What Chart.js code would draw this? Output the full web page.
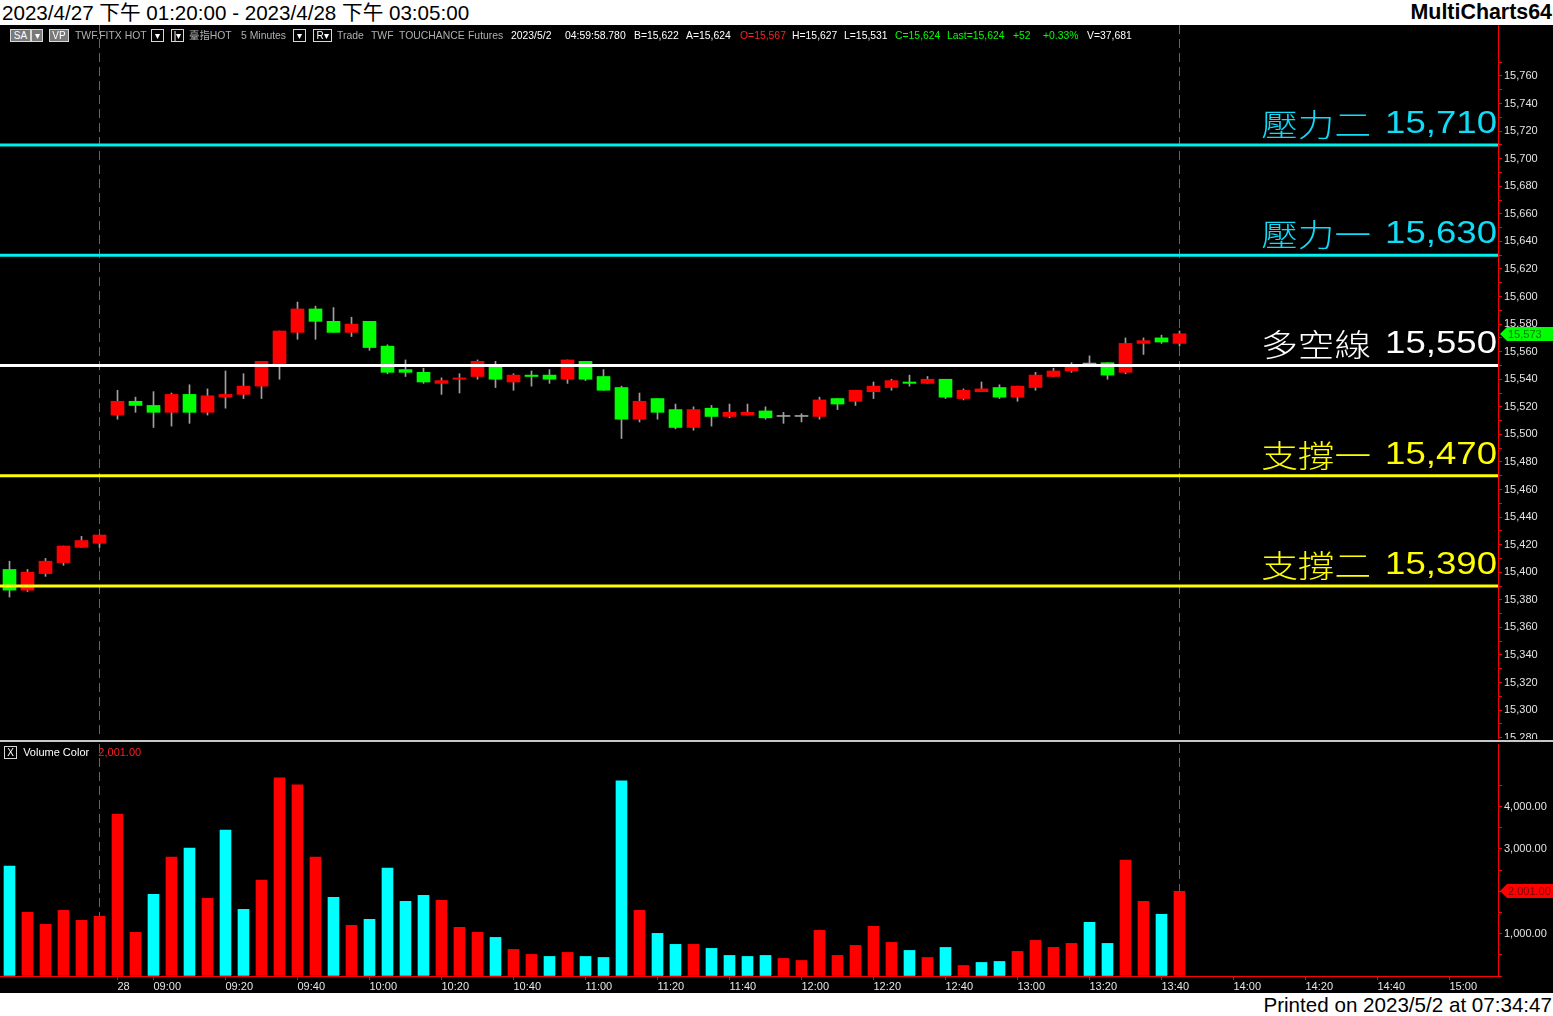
<!DOCTYPE html>
<html lang="zh-Hant">
<head>
<meta charset="utf-8">
<title>TWF.FITX HOT 5 Minutes</title>
<script src="https://cdn.jsdelivr.net/npm/chart.js@4.4.1/dist/chart.umd.min.js"></script>
<style>
  html, body { margin: 0; padding: 0; }
  body {
    width: 1553px; height: 1016px; position: relative; overflow: hidden; background: #000;
    font-family: "Liberation Sans", Arial, "Noto Sans CJK TC", sans-serif;
  }
  #titlebar { position: absolute; left: 0; top: 0; width: 1553px; height: 25px; background: #fff; }
  #titlebar div { position: absolute; top: 0; line-height: 25px; font-size: 20.6px; color: #000; white-space: nowrap; }
  #footer { position: absolute; left: 0; top: 993px; width: 1553px; height: 23px; background: #fff; }
  #footer div { position: absolute; right: 1px; top: 0; line-height: 23px; font-size: 20.6px; color: #000; white-space: nowrap; }
  #status span { position: absolute; top: 30px; font-size: 10.4px; line-height: 12px; white-space: nowrap; }
  .g { color: #b0b0b0; }
  .w { color: #fff; }
  .r { color: #ff2020; }
  .gr { color: #00ff00; }
  #status span.box { top: 29px; height: 11px; line-height: 11px; border: 1px solid #d8d8d8; color: #fff;
                     text-align: center; font-size: 10px; }
  #status span.fill { background: #7a7a7a; }
  #pricePane { position: absolute; left: 0; top: 25px; }
  #volPane { position: absolute; left: 0; top: 744px; }
  #sep { position: absolute; left: 0; top: 740px; width: 1553px; height: 2px; background: #c8c8c8; }
  #volLabel { position: absolute; left: 4px; top: 746px; font-size: 11px; line-height: 13px; white-space: nowrap; }
  #volLabel .chk { display: inline-block; width: 11px; height: 11px; border: 1px solid #d8d8d8; color: #fff;
                   font-size: 10px; line-height: 11px; text-align: center; vertical-align: top; }
</style>
</head>
<body>
<div id="titlebar">
  <div style="left:2px">2023/4/27 下午 01:20:00 - 2023/4/28 下午 03:05:00</div>
  <div style="right:1px;font-weight:bold;font-size:21.4px">MultiCharts64</div>
</div>

<canvas id="pricePane" width="1553" height="714"></canvas>
<div id="sep"></div>
<canvas id="volPane" width="1553" height="249"></canvas>

<div id="status">
  <span class="box fill" style="left:10px;width:19px">SA</span>
  <span class="box fill" style="left:31px;width:10px">▾</span>
  <span class="box fill" style="left:49px;width:18px">VP</span>
  <span class="g" style="left:75px">TWF.FITX HOT</span>
  <span class="box" style="left:151px;width:11px">▾</span>
  <span class="box" style="left:171px;width:11px">|▾</span>
  <span class="g" style="left:189px">臺指HOT</span>
  <span class="g" style="left:241px">5 Minutes</span>
  <span class="box" style="left:293px;width:11px">▾</span>
  <span class="box" style="left:313px;width:17px">R▾</span>
  <span class="g" style="left:337px">Trade</span>
  <span class="g" style="left:371px">TWF</span>
  <span class="g" style="left:399px">TOUCHANCE</span>
  <span class="g" style="left:468px">Futures</span>
  <span class="w" style="left:511px">2023/5/2</span>
  <span class="w" style="left:565px">04:59:58.780</span>
  <span class="w" style="left:634px">B=15,622</span>
  <span class="w" style="left:686px">A=15,624</span>
  <span class="r" style="left:740px">O=15,567</span>
  <span class="w" style="left:792px">H=15,627</span>
  <span class="w" style="left:844px">L=15,531</span>
  <span class="gr" style="left:895px">C=15,624</span>
  <span class="gr" style="left:947px">Last=15,624</span>
  <span class="gr" style="left:1013px">+52</span>
  <span class="gr" style="left:1043px">+0.33%</span>
  <span class="w" style="left:1087px">V=37,681</span>
</div>

<div id="volLabel"><span class="chk">X</span>&nbsp; <span class="w">Volume Color</span>&nbsp;&nbsp; <span class="r" id="volLast"></span></div>

<div id="footer"><div>Printed on 2023/5/2 at 07:34:47</div></div>

<script>
// 5-minute bars: 6 bars from 4/27 (13:20-13:45), then 4/28 08:50-13:45
const prevDayBars = 6;

const opens  = [15402, 15387, 15399, 15407, 15418, 15421,
  15514, 15524, 15521, 15516, 15529, 15516, 15527, 15529, 15535, 15551,
  15574, 15591, 15582, 15574, 15582, 15564, 15547, 15545, 15537, 15540,
  15542, 15549, 15538, 15543, 15543, 15540, 15553, 15542, 15534, 15511,
  15526, 15518, 15505, 15519, 15513, 15514, 15517, 15513, 15513, 15513,
  15526, 15524, 15531, 15534, 15538, 15537, 15540, 15526, 15531, 15534,
  15527, 15534, 15542, 15546, 15551, 15552, 15545, 15566, 15570, 15566];
const highs  = [15408, 15402, 15410, 15419, 15426, 15427,
  15532, 15527, 15531, 15530, 15536, 15533, 15546, 15544, 15553, 15575,
  15596, 15593, 15592, 15585, 15582, 15565, 15554, 15548, 15541, 15544,
  15554, 15553, 15544, 15546, 15547, 15554, 15553, 15547, 15535, 15530,
  15526, 15522, 15520, 15521, 15522, 15522, 15520, 15516, 15515, 15527,
  15526, 15532, 15538, 15540, 15543, 15542, 15540, 15533, 15538, 15536,
  15535, 15545, 15548, 15552, 15557, 15552, 15570, 15570, 15572, 15575];
const lows   = [15382, 15386, 15397, 15405, 15418, 15418,
  15511, 15516, 15505, 15506, 15508, 15514, 15519, 15526, 15526, 15540,
  15569, 15569, 15574, 15571, 15561, 15544, 15542, 15537, 15529, 15530,
  15540, 15534, 15532, 15535, 15537, 15537, 15539, 15532, 15497, 15509,
  15511, 15504, 15503, 15506, 15512, 15514, 15511, 15508, 15509, 15511,
  15518, 15521, 15526, 15532, 15535, 15537, 15526, 15525, 15531, 15526,
  15524, 15532, 15542, 15545, 15550, 15540, 15544, 15558, 15566, 15564];
const closes = [15387, 15400, 15408, 15419, 15423, 15427,
  15524, 15521, 15516, 15529, 15516, 15528, 15529, 15535, 15553, 15575,
  15591, 15582, 15574, 15580, 15563, 15545, 15545, 15538, 15539, 15541,
  15553, 15540, 15543, 15542, 15540, 15554, 15540, 15532, 15511, 15524,
  15516, 15505, 15518, 15513, 15516, 15516, 15512, 15513, 15513, 15525,
  15522, 15532, 15535, 15539, 15537, 15540, 15527, 15532, 15533, 15527,
  15535, 15543, 15546, 15549, 15551, 15543, 15566, 15568, 15567, 15573];

const volumes = [2595, 1505, 1220, 1552, 1315, 1410,
  3827, 1031, 1932, 2808, 3022, 1837, 3448, 1576, 2263, 4681,
  4515, 2808, 1860, 1197, 1339, 2548, 1766, 1908, 1789, 1149,
  1031, 912, 628, 510, 462, 557, 462, 438, 4610, 1552,
  1007, 747, 747, 652, 486, 462, 486, 415, 367, 1078,
  486, 723, 1173, 794, 604, 438, 675, 249, 320, 344,
  581, 841, 675, 770, 1268, 770, 2737, 1766, 1458, 2001];
// 1 = up volume (red), 0 = down volume (cyan)
const volumeUp = [0, 1, 1, 1, 1, 1,
  1, 1, 0, 1, 0, 1, 0, 0, 1, 1,
  1, 1, 0, 1, 0, 0, 0, 0, 1, 1,
  1, 0, 1, 1, 0, 1, 0, 0, 0, 1,
  0, 0, 1, 0, 0, 0, 0, 1, 1, 1,
  1, 1, 1, 1, 0, 1, 0, 1, 0, 0,
  1, 1, 1, 1, 0, 0, 1, 1, 0, 1];

const levels     = [15710, 15630, 15550, 15470, 15390];
const levelNames = ['壓力二', '壓力一', '多空線', '支撐一', '支撐二'];

const tickTimes  = ['08:50', '09:00', '09:20', '09:40', '10:00', '10:20', '10:40', '11:00', '11:20', '11:40',
  '12:00', '12:20', '12:40', '13:00', '13:20', '13:40', '14:00', '14:20', '14:40', '15:00'];
const tickLabels = ['28', '09:00', '09:20', '09:40', '10:00', '10:20', '10:40', '11:00', '11:20', '11:40',
  '12:00', '12:20', '12:40', '13:00', '13:20', '13:40', '14:00', '14:20', '14:40', '15:00'];

// ---- look ----
const FONT = '"Liberation Sans", Arial, sans-serif';
const UP = '#ff0000', DOWN = '#00ff00', DOJI = '#a0a0a0', WICK = '#a0a0a0';
const VOL_UP = '#ff0000', VOL_DOWN = '#00ffff';
const levelLineColors = ['#00f0f0', '#00f0f0', '#ffffff', '#ffff00', '#ffff00'];
const levelTextColors = ['#10dcf8', '#10dcf8', '#ffffff', '#ffff00', '#ffff00'];
const AXIS_W = 55, BAR_SPACING = 18, PLOT_W = 1553 - AXIS_W;
const xMin = -9.5 / BAR_SPACING;            // first bar centred 9.5px in
const xMax = xMin + PLOT_W / BAR_SPACING;   // empty slots run on to 15:05
const sessionEnds = [prevDayBars - 1, closes.length - 1];

function timeToIndex(t) {
  const [h, m] = t.split(':').map(Number);
  return prevDayBars + (h * 60 + m - (8 * 60 + 50)) / 5;
}
const fmt = v => v.toLocaleString('en-US');
const fmt2 = v => v.toLocaleString('en-US', { minimumFractionDigits: 2, maximumFractionDigits: 2 });

// dashed session separators, both panes
const sessionLines = {
  id: 'sessionLines',
  beforeDatasetsDraw(chart) {
    const { ctx, chartArea, scales: { x } } = chart;
    ctx.save();
    ctx.strokeStyle = '#666666';
    ctx.lineWidth = 1;
    ctx.setLineDash([9, 5]);
    sessionEnds.forEach(i => {
      const px = Math.floor(x.getPixelForValue(i)) + 0.5;
      ctx.beginPath();
      ctx.moveTo(px, chartArea.top);
      ctx.lineTo(px, chartArea.bottom);
      ctx.stroke();
    });
    ctx.restore();
  }
};

// big text over each support / resistance line: number, then name to its left
const levelLabels = {
  id: 'levelLabels',
  afterDatasetsDraw(chart) {
    const { ctx, chartArea, scales: { y } } = chart;
    levels.forEach((lv, i) => {
      const py = y.getPixelForValue(lv);
      ctx.save();
      ctx.fillStyle = levelTextColors[i];
      ctx.textAlign = 'right';
      ctx.textBaseline = 'alphabetic';
      ctx.translate(chartArea.right - 1, py - 12);
      ctx.scale(1.18, 1);
      ctx.font = '31px "Liberation Sans", sans-serif';
      const num = fmt(lv);
      ctx.fillText(num, 0, 0);
      const w = ctx.measureText(num).width;
      ctx.font = '300 31px "Noto Sans CJK TC", sans-serif';
      ctx.fillText(levelNames[i], -w - 12, 3);
      ctx.restore();
    });
  }
};

// last-value tag on the right axis
function axisTag(value, text, bg, fg) {
  return {
    id: 'axisTag',
    afterDraw(chart) {
      const { ctx, chartArea, scales: { y } } = chart;
      const py = Math.round(y.getPixelForValue(value));
      const x0 = chartArea.right + 2, x1 = chart.width;
      ctx.save();
      ctx.fillStyle = bg;
      ctx.beginPath();
      ctx.moveTo(x0, py);
      ctx.lineTo(x0 + 7, py - 7);
      ctx.lineTo(x1, py - 7);
      ctx.lineTo(x1, py + 7);
      ctx.lineTo(x0 + 7, py + 7);
      ctx.closePath();
      ctx.fill();
      ctx.fillStyle = fg;
      ctx.font = '11px ' + FONT;
      ctx.textBaseline = 'middle';
      ctx.fillText(text, x0 + 8, py + 1);
      ctx.restore();
    }
  };
}

function rightAxis(min, max, ticksFn, labelFn) {
  return {
    position: 'right', min: min, max: max,
    afterFit: s => { s.width = AXIS_W; s.paddingTop = 0; s.paddingBottom = 0; },
    afterBuildTicks: s => { s.ticks = ticksFn().map(v => ({ value: v })); },
    border: { color: '#ff0000', width: 1 },
    grid: { drawOnChartArea: false, color: '#ff0000', tickLength: 4 },
    ticks: { color: '#e4e4e4', font: { family: FONT, size: 11 }, padding: 2, autoSkip: false, callback: labelFn }
  };
}

// ---- price pane ----
const levelSets = levels.map((lv, i) => ({
  type: 'line',
  data: [{ x: xMin, y: lv }, { x: xMax, y: lv }],
  borderColor: levelLineColors[i],
  borderWidth: 3,
  pointRadius: 0,
  order: 0
}));

new Chart(document.getElementById('pricePane'), {
  type: 'bar',
  data: {
    datasets: [
      ...levelSets,
      {
        label: 'body',
        data: opens.map((o, i) => ({ x: i, y: [o, closes[i]] })),
        backgroundColor: opens.map((o, i) => closes[i] > o ? UP : closes[i] < o ? DOWN : DOJI),
        barThickness: 13,
        minBarLength: 1,
        grouped: false,
        order: 1
      },
      {
        label: 'wick',
        data: lows.map((l, i) => ({ x: i, y: [l, highs[i]] })),
        backgroundColor: WICK,
        barThickness: 1,
        grouped: false,
        order: 2
      }
    ]
  },
  options: {
    responsive: false,
    animation: false,
    events: [],
    layout: { padding: 0 },
    plugins: { legend: { display: false }, tooltip: { enabled: false } },
    scales: {
      x: { type: 'linear', min: xMin, max: xMax, offset: false, display: false, grid: { offset: false } },
      y: rightAxis(15279, 15797,
        () => { const t = []; for (let v = 15280; v <= 15770; v += 10) t.push(v); return t; },
        v => v % 20 === 0 ? fmt(v) : '')
    }
  },
  plugins: [sessionLines, levelLabels,
    axisTag(closes[closes.length - 1], fmt(closes[closes.length - 1]), '#00ff00', '#007a00')]
});

// ---- volume pane ----
const lastVol = volumes[volumes.length - 1];
document.getElementById('volLast').textContent = fmt2(lastVol);

new Chart(document.getElementById('volPane'), {
  type: 'bar',
  data: {
    datasets: [{
      label: 'Volume',
      data: volumes.map((v, i) => ({ x: i, y: v })),
      backgroundColor: volumeUp.map(u => u ? VOL_UP : VOL_DOWN),
      barThickness: 11,
      grouped: false
    }]
  },
  options: {
    responsive: false,
    animation: false,
    events: [],
    layout: { padding: 0 },
    plugins: { legend: { display: false }, tooltip: { enabled: false } },
    scales: {
      x: {
        type: 'linear', min: xMin, max: xMax, offset: false, position: 'bottom',
        afterFit: s => { s.height = 17; s.paddingLeft = 0; s.paddingRight = 0; },
        afterBuildTicks: s => { s.ticks = tickTimes.map(t => ({ value: timeToIndex(t) })); },
        border: { color: '#ff0000', width: 1 },
        grid: { drawOnChartArea: false, offset: false, color: '#ff0000', tickLength: 4 },
        ticks: {
          color: '#e4e4e4', font: { family: FONT, size: 11 }, padding: 0,
          align: 'start', maxRotation: 0, autoSkip: false,
          callback: (v, i) => tickLabels[i]
        }
      },
      y: rightAxis(0, 5480,
        () => { const t = []; for (let v = 0; v <= 4500; v += 500) t.push(v); return t; },
        v => (v > 0 && v % 1000 === 0) ? fmt2(v) : '')
    }
  },
  plugins: [sessionLines, axisTag(lastVol, fmt2(lastVol), '#ff0000', '#800000')]
});
</script>
</body>
</html>
